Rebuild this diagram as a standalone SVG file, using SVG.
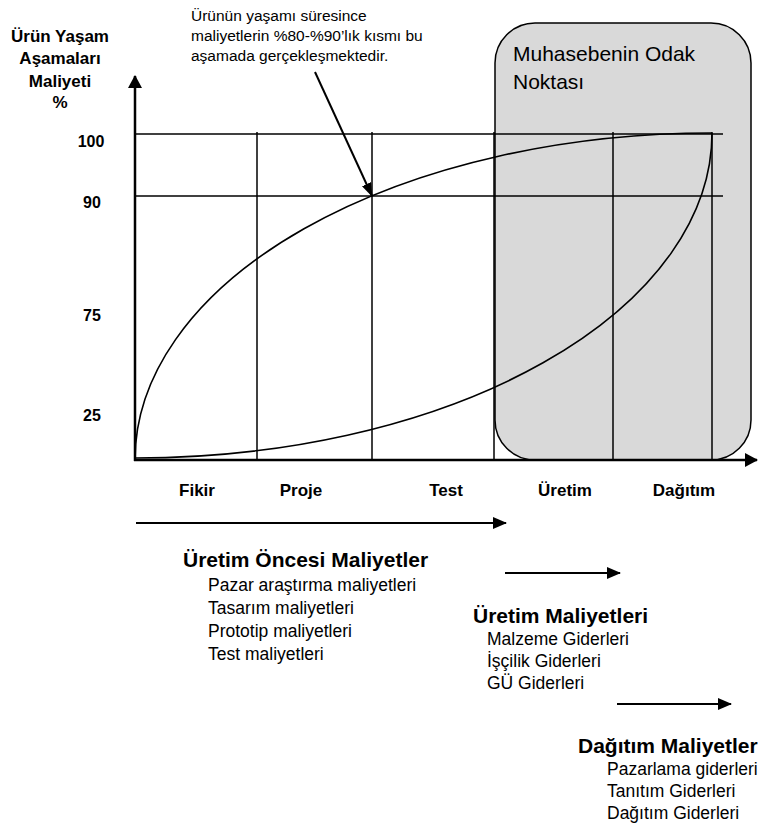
<svg xmlns="http://www.w3.org/2000/svg" width="763" height="829" viewBox="0 0 763 829">
  <style>
    .t { font-family: "Liberation Sans", Arial, sans-serif; fill: #000; }
    .b { font-weight: bold; }
    .grid { stroke: #000; stroke-width: 1.5; fill: none; }
    .axis { stroke: #000; stroke-width: 2.5; fill: none; }
    .curve { stroke: #000; stroke-width: 1.6; fill: none; }
    .arr { stroke: #000; stroke-width: 2; fill: none; }
  </style>
  <defs>
    <marker id="head" viewBox="0 0 14 12" refX="13" refY="6" markerWidth="14" markerHeight="12" markerUnits="userSpaceOnUse" orient="auto">
      <path d="M0,0 L14,6 L0,12 Z" fill="#000"/>
    </marker>
    <marker id="ptr" viewBox="0 0 14 10" refX="13" refY="5" markerWidth="14" markerHeight="10" markerUnits="userSpaceOnUse" orient="auto">
      <path d="M0,0 L14,5 L0,10 Z" fill="#000"/>
    </marker>
    <marker id="axhead" viewBox="0 0 13 14" refX="12" refY="7" markerWidth="13" markerHeight="14" markerUnits="userSpaceOnUse" orient="auto">
      <path d="M0,0 L13,7 L0,14 Z" fill="#000"/>
    </marker>
  </defs>

  <!-- accounting focus area -->
  <g id="focus">
    <rect x="495" y="23" width="256" height="437" rx="40" ry="40" fill="#d9d9d9" stroke="#000" stroke-width="1.5"/>
    <text class="t" font-size="21" x="513" y="61">Muhasebenin Odak</text>
    <text class="t" font-size="21" x="513" y="89">Noktası</text>
  </g>

  <!-- grid -->
  <g id="grid">
    <line class="grid" x1="135" y1="134" x2="723" y2="134"/>
    <line class="grid" x1="135" y1="196" x2="723" y2="196"/>
    <line class="grid" x1="257" y1="132" x2="257" y2="460"/>
    <line class="grid" x1="372" y1="132" x2="372" y2="460"/>
    <line class="grid" x1="494" y1="132" x2="494" y2="460" stroke-width="2.2"/>
    <line class="grid" x1="613" y1="132" x2="613" y2="460"/>
    <line class="grid" x1="712" y1="132" x2="712" y2="460"/>
  </g>

  <!-- cost curves -->
  <g id="curves">
    <path class="curve" d="M135,460 A577,327 0 0 1 712,133"/>
    <path class="curve" d="M135,458 A577,325 0 0 0 712,133"/>
  </g>

  <!-- axes -->
  <g id="axes">
    <line class="axis" x1="135" y1="461" x2="135" y2="76" marker-end="url(#axhead)"/>
    <line class="axis" x1="134" y1="460" x2="757" y2="460" marker-end="url(#axhead)"/>
  </g>

  <!-- axis title and ticks -->
  <g id="y-title">
    <text class="t b" font-size="17" text-anchor="middle" x="60" y="42">Ürün Yaşam</text>
    <text class="t b" font-size="17" text-anchor="middle" x="60" y="64">Aşamaları</text>
    <text class="t b" font-size="17" text-anchor="middle" x="60" y="87">Maliyeti</text>
    <text class="t b" font-size="17" text-anchor="middle" x="60" y="108">%</text>
  </g>
  <g id="y-ticks">
    <text class="t b" font-size="16" text-anchor="middle" x="91" y="147">100</text>
    <text class="t b" font-size="16" text-anchor="middle" x="92" y="208">90</text>
    <text class="t b" font-size="16" text-anchor="middle" x="92" y="321">75</text>
    <text class="t b" font-size="16" text-anchor="middle" x="92" y="421">25</text>
  </g>
  <g id="stages">
    <text class="t b" font-size="17" text-anchor="middle" x="197" y="496">Fikir</text>
    <text class="t b" font-size="17" text-anchor="middle" x="301" y="496">Proje</text>
    <text class="t b" font-size="17" text-anchor="middle" x="446" y="496">Test</text>
    <text class="t b" font-size="17" text-anchor="middle" x="565" y="496">Üretim</text>
    <text class="t b" font-size="17" text-anchor="middle" x="684" y="496">Dağıtım</text>
  </g>

  <!-- annotation -->
  <g id="note">
    <text class="t" font-size="15.5" x="191" y="21">Ürünün yaşamı süresince</text>
    <text class="t" font-size="15.5" x="191" y="41">maliyetlerin %80-%90’lık kısmı bu</text>
    <text class="t" font-size="15.5" x="191" y="61">aşamada gerçekleşmektedir.</text>
  </g>

  <!-- connectors -->
  <g id="connectors">
    <line class="arr" x1="315" y1="72" x2="372" y2="196" marker-end="url(#ptr)"/>
    <line class="arr" x1="136" y1="523" x2="506" y2="523" marker-end="url(#head)"/>
    <line class="arr" x1="505" y1="573" x2="620" y2="573" marker-end="url(#head)"/>
    <line class="arr" x1="617" y1="704" x2="731" y2="704" marker-end="url(#head)"/>
  </g>

  <g id="pre-production">
    <text class="t b" font-size="21" x="183" y="567">Üretim Öncesi Maliyetler</text>
    <text class="t" font-size="17.5" x="208" y="591">Pazar araştırma maliyetleri</text>
    <text class="t" font-size="17.5" x="208" y="614">Tasarım maliyetleri</text>
    <text class="t" font-size="17.5" x="208" y="637">Prototip maliyetleri</text>
    <text class="t" font-size="17.5" x="208" y="660">Test maliyetleri</text>
  </g>

  <g id="production">
    <text class="t b" font-size="21" x="473" y="623">Üretim Maliyetleri</text>
    <text class="t" font-size="17.5" x="487" y="645">Malzeme Giderleri</text>
    <text class="t" font-size="17.5" x="487" y="667">İşçilik Giderleri</text>
    <text class="t" font-size="17.5" x="487" y="689">GÜ Giderleri</text>
  </g>

  <g id="distribution">
    <text class="t b" font-size="21" x="578" y="753">Dağıtım Maliyetler</text>
    <text class="t" font-size="17.5" x="607" y="775">Pazarlama giderleri</text>
    <text class="t" font-size="17.5" x="607" y="797">Tanıtım Giderleri</text>
    <text class="t" font-size="17.5" x="607" y="819">Dağıtım Giderleri</text>
  </g>
</svg>
